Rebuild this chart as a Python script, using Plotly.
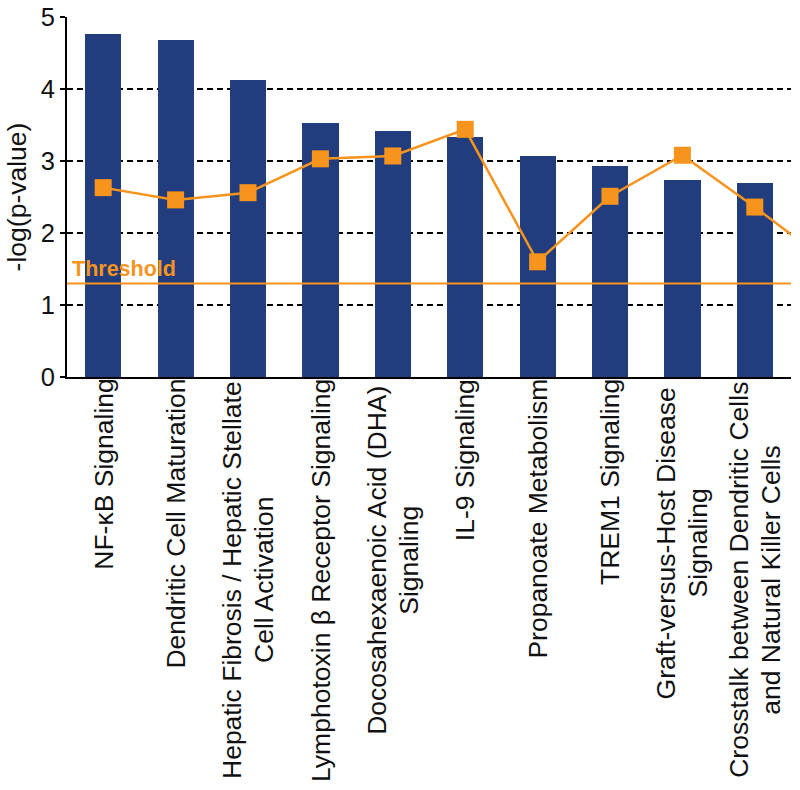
import plotly.graph_objects as go

categories = [
    "NF-κB Signaling",
    "Dendritic Cell Maturation",
    "Hepatic Fibrosis / Hepatic Stellate<br>Cell Activation",
    "Lymphotoxin β Receptor Signaling",
    "Docosahexaenoic Acid (DHA)<br>Signaling",
    "IL-9 Signaling",
    "Propanoate Metabolism",
    "TREM1 Signaling",
    "Graft-versus-Host Disease<br>Signaling",
    "Crosstalk between Dendritic Cells<br>and Natural Killer Cells",
]
neg_log_p = [4.76, 4.68, 4.12, 3.53, 3.42, 3.33, 3.07, 2.93, 2.73, 2.69]
# ratio series; the last value belongs to a pathway beyond the visible range (clipped)
ratio = [2.63, 2.46, 2.56, 3.03, 3.07, 3.44, 1.60, 2.51, 3.08, 2.36, 1.60]
threshold = 1.3
y_ticks = [0, 1, 2, 3, 4, 5]

BAR = "#223D7E"
ORANGE = "#F7941D"
FONT = "Liberation Sans, Arial, sans-serif"
LABEL_SIZE = 26.5
LINE_GAP = 32  # px between wrapped label lines
# distance (px) from the axis to the centre of the first (longest) line of wrapped labels
WRAP_CENTER = {2: 203, 4: 183, 8: 166, 9: 203}

x_idx = list(range(len(categories)))
x_ratio = list(range(len(ratio)))

fig = go.Figure()
fig.add_trace(go.Bar(x=x_idx, y=neg_log_p, width=0.5, marker=dict(color=BAR, line=dict(width=0)),
                     showlegend=False, hoverinfo="skip"))
fig.add_trace(go.Scatter(x=x_ratio, y=ratio, mode="lines+markers",
                         line=dict(color=ORANGE, width=2.5),
                         marker=dict(symbol="square", size=17, color=ORANGE),
                         showlegend=False, cliponaxis=True, hoverinfo="skip"))

fig.add_shape(type="line", xref="paper", x0=0, x1=1, yref="y", y0=threshold, y1=threshold,
              line=dict(color=ORANGE, width=2), layer="above")
fig.add_annotation(text="<b>Threshold</b>", xref="paper", x=0, xanchor="left", xshift=3,
                   yref="y", y=threshold, yanchor="bottom", yshift=0, showarrow=False,
                   font=dict(family=FONT, size=21.5, color=ORANGE))

for i, c in enumerate(categories):
    lines = c.split("<br>")
    if len(lines) == 1:
        fig.add_annotation(text=c, xref="x", x=i, xanchor="center", yref="paper", y=0,
                           yanchor="top", yshift=0, textangle=-90,
                           showarrow=False, font=dict(family=FONT, size=LABEL_SIZE, color="#111"))
    else:
        n = len(lines)
        for j, ln in enumerate(lines):
            fig.add_annotation(text=ln, xref="x", x=i, xanchor="center",
                               xshift=(j - (n - 1) / 2) * LINE_GAP,
                               yref="paper", y=0, yanchor="middle", yshift=-WRAP_CENTER[i],
                               textangle=-90, showarrow=False,
                               font=dict(family=FONT, size=LABEL_SIZE, color="#111"))

fig.update_layout(
    width=800, height=790,
    margin=dict(l=67, r=9, t=17, b=413),
    paper_bgcolor="white", plot_bgcolor="white",
    font=dict(family=FONT, color="#111"),
    bargap=0,
    hovermode=False,
)
fig.update_xaxes(range=[-0.5, 9.5], showticklabels=False, ticks="", showgrid=False,
                 showline=True, linecolor="black", linewidth=2, zeroline=False,
                 automargin=False)
fig.update_yaxes(range=[0, 5], tickvals=y_ticks, ticks="outside", ticklen=5, tickwidth=1.5,
                 tickcolor="black", tickfont=dict(family=FONT, size=25.5, color="#111"),
                 showline=True, linecolor="black", linewidth=2, zeroline=False,
                 showgrid=True, gridcolor="black", gridwidth=1.5, griddash="6px,4px",
                 automargin=False,
                 title=dict(text="-log(p-value)", font=dict(family=FONT, size=26.5, color="#111"),
                            standoff=6))

# remove the browser's default 8px page margin so the figure sits at the window origin
fig.write_html("out.html", config={"displayModeBar": False},
               post_script="document.body.style.margin='0';")
